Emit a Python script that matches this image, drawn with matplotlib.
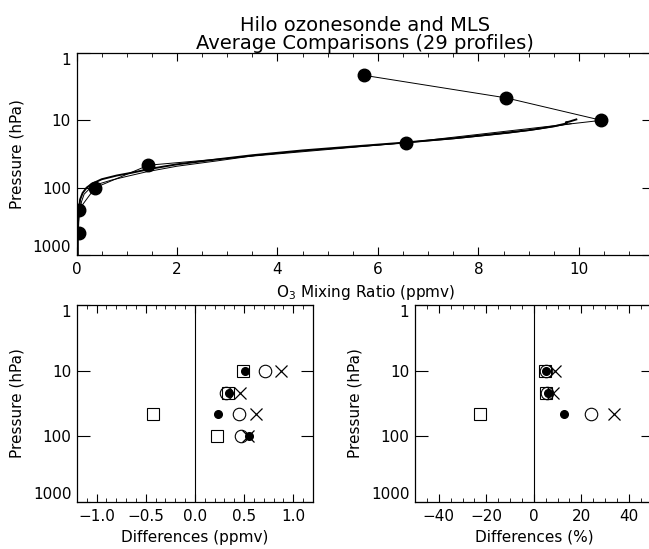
import matplotlib.pyplot as plt
from matplotlib.ticker import MultipleLocator, FixedLocator, FixedFormatter

# MLS average profile (dots) at UARS standard levels
mls_p = [2.15, 4.64, 10.0, 21.5, 46.4, 100.0, 215.0, 464.0]
mls_o3 = [5.73, 8.55, 10.45, 6.55, 1.43, 0.37, 0.04, 0.04]

# ozonesonde average profile (thick curve)
sonde_p = [1000, 700, 400, 250, 150, 120, 100, 88, 75, 66, 60, 52, 45, 38, 33,
           28, 24.5, 21.5, 18.5, 16, 14, 12.3, 11.1, 10.7, 10.5, 9.7]
sonde_o3 = [0.02, 0.02, 0.02, 0.04, 0.07, 0.12, 0.2, 0.3, 0.5, 0.8, 1.1, 1.5, 2.0,
            2.8, 3.5, 4.5, 5.5, 6.5, 7.5, 8.3, 9.0, 9.5, 9.76, 9.74, 9.8, 9.95]

# second sonde curve (thin)
sonde2_p = [1000, 500, 250, 160, 125, 105, 90, 77, 68, 58, 48, 40, 33, 28, 24.5,
            21.5, 18.5, 15.5, 13.5, 12.0, 11.2]
sonde2_o3 = [0.03, 0.03, 0.05, 0.1, 0.15, 0.25, 0.4, 0.7, 1.0, 1.4, 2.0, 2.8, 3.6,
             4.6, 5.6, 6.55, 7.6, 8.6, 9.2, 9.6, 9.85]

# differences at 4 levels
diff_p = [10.0, 21.5, 46.4, 100.0]
sq_ppmv = [0.49, 0.34, -0.43, 0.225]
dot_ppmv = [0.51, 0.35, 0.23, 0.545]
circ_ppmv = [0.71, 0.32, 0.45, 0.47]
x_ppmv = [0.87, 0.46, 0.62, 0.54]

pct_p = [10.0, 21.5, 46.4]
sq_pct = [4.6, 5.0, -22.7]
dot_pct = [5.2, 5.8, 12.8]
circ_pct = [5.0, 5.5, 23.9]
x_pct = [8.8, 7.9, 33.6]

plt.rcParams['font.family'] = 'DejaVu Sans'
plt.rcParams['font.size'] = 11
plt.rcParams['axes.linewidth'] = 0.9

fig = plt.figure(figsize=(6.49, 5.49), dpi=100)

ax = fig.add_axes([0.118, 0.5355, 0.890, 0.368])
ax.plot(sonde_o3, sonde_p, color='black', linewidth=1.4)
ax.plot(sonde2_o3, sonde2_p, color='black', linewidth=0.7)
ax.plot(mls_o3, mls_p, color='black', linewidth=0.7, marker='o', markersize=9)
ax.set_xlim(0, 11.5)
ax.xaxis.set_major_locator(MultipleLocator(2))
ax.xaxis.set_minor_locator(MultipleLocator(0.5))
ax.set_xlabel('O$_3$ Mixing Ratio (ppmv)', labelpad=4)
ax.set_ylabel('Pressure (hPa)', labelpad=6)
ax.set_title('Hilo ozonesonde and MLS\nAverage Comparisons (29 profiles)',
             fontsize=14, linespacing=0.95, pad=3)


def style_pressure(a):
    a.set_yscale('log')
    a.set_ylim(1000, 1)
    a.yaxis.set_major_locator(FixedLocator([1, 10, 100, 1000]))
    a.yaxis.set_major_formatter(FixedFormatter(['1', '10', '100', '1000']))
    a.yaxis.set_minor_locator(FixedLocator([]))
    a.tick_params(axis='y', which='major', direction='in', length=9, width=0.8,
                  left=True, right=True, pad=4)
    a.tick_params(axis='x', which='major', direction='in', length=6, width=0.8,
                  top=True, bottom=True, pad=5)
    a.tick_params(axis='x', which='minor', direction='in', length=3, width=0.6,
                  top=True, bottom=True)
    # end labels sit inside the axis range, as in the original
    ticks = a.yaxis.get_major_ticks()
    ticks[0].label1.set_verticalalignment('top')
    ticks[-1].label1.set_verticalalignment('bottom')


style_pressure(ax)

mk = dict(linestyle='none', color='black')

ax2 = fig.add_axes([0.1186, 0.0856, 0.3636, 0.3588])
ax2.axvline(0, color='black', linewidth=0.8)
ax2.plot(sq_ppmv, diff_p, marker='s', markersize=9, markerfacecolor='white',
         markeredgewidth=0.8, **mk)
ax2.plot(circ_ppmv, diff_p, marker='o', markersize=9, markerfacecolor='none',
         markeredgewidth=0.8, **mk)
ax2.plot(x_ppmv, diff_p, marker='x', markersize=9, markeredgewidth=0.9, **mk)
ax2.plot(dot_ppmv, diff_p, marker='o', markersize=5.5, **mk)
ax2.set_xlim(-1.2, 1.2)
ax2.xaxis.set_major_locator(MultipleLocator(0.5))
ax2.xaxis.set_minor_locator(MultipleLocator(0.1))
ax2.xaxis.set_major_formatter(plt.FuncFormatter(lambda v, p: f'{v:.1f}'.replace('-', '\u2212')))
ax2.set_xlabel('Differences (ppmv)', labelpad=4)
ax2.set_ylabel('Pressure (hPa)', labelpad=6)
style_pressure(ax2)

ax3 = fig.add_axes([0.6394, 0.0856, 0.3663, 0.3588])
ax3.axvline(0, color='black', linewidth=0.8)
ax3.plot(sq_pct, pct_p, marker='s', markersize=9, markerfacecolor='white',
         markeredgewidth=0.8, **mk)
ax3.plot(circ_pct, pct_p, marker='o', markersize=9, markerfacecolor='none',
         markeredgewidth=0.8, **mk)
ax3.plot(x_pct, pct_p, marker='x', markersize=9, markeredgewidth=0.9, **mk)
ax3.plot(dot_pct, pct_p, marker='o', markersize=5.5, **mk)
ax3.set_xlim(-50, 50)
ax3.xaxis.set_major_locator(MultipleLocator(20))
ax3.xaxis.set_minor_locator(MultipleLocator(5))
ax3.set_xlabel('Differences (%)', labelpad=4)
ax3.set_ylabel('Pressure (hPa)', labelpad=6)
style_pressure(ax3)

fig.savefig('out.png', dpi=100)
